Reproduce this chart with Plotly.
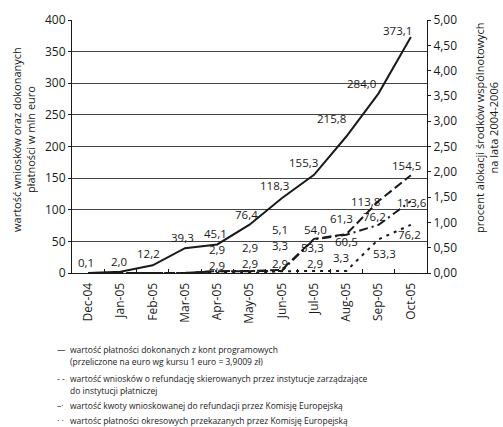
import plotly.graph_objects as go

# Months of the reporting period
months = ["Dec-04", "Jan-05", "Feb-05", "Mar-05", "Apr-05", "May-05",
          "Jun-05", "Jul-05", "Aug-05", "Sep-05", "Oct-05"]

# Values in million EUR
payments_programme = [0.1, 2.0, 12.2, 39.3, 45.1, 76.4, 118.3, 155.3, 215.8, 284.0, 373.1]
claims_to_paying_inst = [0, 0, 0, 0, 2.9, 2.9, 5.1, 54.0, 61.3, 113.8, 154.5]
claims_to_commission = [0, 0, 0, 0, 2.9, 2.9, 3.3, 53.3, 60.5, 76.2, 113.6]
commission_payments = [0, 0, 0, 0, 0, 0, 2.9, 2.9, 3.3, 53.3, 76.2]

# Secondary axis: percent of 2004-2006 allocation
pct_ticks = [0, 0.5, 1.0, 1.5, 2.0, 2.5, 3.0, 3.5, 4.0, 4.5, 5.0]

legend_items = [
    ("—", "wartość płatności dokonanych z kont programowych",
     "(przeliczone na euro wg kursu 1 euro = 3,9009 zł)"),
    ("- -", "wartość wniosków o refundację skierowanych przez instytucje zarządzające",
     "do instytucji płatniczej"),
    ("–·", "wartość kwoty wnioskowanej do refundacji przez Komisję Europejską", None),
    ("· ·", "wartośc płatności okresowych przekazanych przez Komisję Europejską", None),
]

# Pixel offsets (dx, dy; dy>0 is upward) of the value labels relative to each point
shift_payments = [(-2, 10), (-1, 10), (-4, 12), (-2, 11), (-2, 11), (-3, 10),
                  (-7, 13), (-11, 12), (-15, 18), (-17, 10), (-13, 7)]
shift_paying = [None, None, None, None, (0, 22), (0, 24), (-2, 40), (1, 9),
                (-5, 16), (-13, 0), (-4, 10)]
shift_commission = [None, None, None, None, (0, 6), (0, 8), (-2, 25), (-2, -8),
                    (0, -7), (-4, 8), (1, -1)]
shift_comm_pay = [None, None, None, None, None, None, (-2, 8), (1, 8),
                  (-5, 13), (6, -14), (-1, -10)]

INK = "#1a1a1a"
FONT = "Open Sans"

# plot area in pixels
L, R, T, B = 72, 427, 20, 273
W, H = 503, 427


def px_x(px):
    return (px - L) / (R - L)


def px_y(py):
    return (B - py) / (B - T)


fig = go.Figure()

series = [
    (commission_payments, dict(color=INK, width=2, dash="3px,5px"), shift_comm_pay),
    (claims_to_commission, dict(color=INK, width=2, dash="9px,4px,2px,4px"), shift_commission),
    (claims_to_paying_inst, dict(color=INK, width=2, dash="9px,4px"), shift_paying),
    (payments_programme, dict(color=INK, width=2), shift_payments),
]

annotations = []
for values, line, shifts in series:
    fig.add_trace(go.Scatter(x=months, y=values, mode="lines", line=line,
                             showlegend=False, hoverinfo="skip"))
    for m, v, s in zip(months, values, shifts):
        if s is None:
            continue
        annotations.append(dict(
            x=m, y=v, xref="x", yref="y", showarrow=False,
            text=f"{v:.1f}".replace(".", ","), xshift=s[0], yshift=s[1],
            font=dict(family=FONT, size=11.5, color=INK)))

# invisible trace to activate the percent axis
fig.add_trace(go.Scatter(x=[months[0]], y=[0], yaxis="y2", mode="markers",
                         marker=dict(opacity=0), showlegend=False, hoverinfo="skip"))

# axis titles
annotations.append(dict(
    x=px_x(23), y=px_y(140), xref="paper", yref="paper", showarrow=False,
    xanchor="center", yanchor="middle",
    textangle=-90, text="wartość wniosków oraz dokonanych<br>płatności w mln euro",
    font=dict(family=FONT, size=11, color=INK)))
annotations.append(dict(
    x=px_x(486), y=px_y(128), xref="paper", yref="paper", showarrow=False,
    xanchor="center", yanchor="middle",
    textangle=-90, text="procent alokacji środków wspólnotowych<br>na lata 2004-2006",
    font=dict(family=FONT, size=11, color=INK)))

# legend block under the chart
rows = []
for sym, first, second in legend_items:
    rows.append((sym, first))
    if second:
        rows.append((None, second))
row_y = [349, 361, 378, 390, 405, 420]
for (sym, text), yy in zip(rows, row_y):
    if sym:
        annotations.append(dict(
            x=px_x(55), y=px_y(yy), xref="paper", yref="paper", showarrow=False,
            xanchor="left", yanchor="middle", text=sym,
            font=dict(family=FONT, size=8.5, color=INK)))
    annotations.append(dict(
        x=px_x(68), y=px_y(yy), xref="paper", yref="paper", showarrow=False,
        xanchor="left", yanchor="middle", text=text,
        font=dict(family=FONT, size=8.5, color=INK)))

fig.update_layout(
    width=W, height=H,
    margin=dict(l=L, r=W - R, t=T, b=H - B),
    paper_bgcolor="white", plot_bgcolor="white",
    separators=", ",
    font=dict(family=FONT, size=12, color=INK),
    xaxis=dict(type="category", range=[-0.5, len(months) - 0.5],
               tickangle=-90, ticks="inside", ticklen=4, tickson="boundaries",
               tickcolor=INK, showline=True, linecolor=INK, linewidth=1,
               showgrid=False, ticklabelstandoff=4,
               tickfont=dict(family=FONT, size=12, color=INK)),
    yaxis=dict(range=[0, 400], dtick=50, showgrid=True, gridcolor="#444",
               gridwidth=1, zeroline=False, showline=True, linecolor=INK,
               ticks="outside", ticklen=3, tickcolor=INK,
               tickfont=dict(family=FONT, size=12, color=INK)),
    yaxis2=dict(range=[0, 5], tickvals=pct_ticks, tickformat=".2f",
                overlaying="y", side="right", showgrid=False, zeroline=False,
                showline=True, linecolor=INK, ticks="outside", ticklen=3,
                tickcolor=INK, tickfont=dict(family=FONT, size=12, color=INK)),
    annotations=annotations,
)

fig.write_html("out.html")
